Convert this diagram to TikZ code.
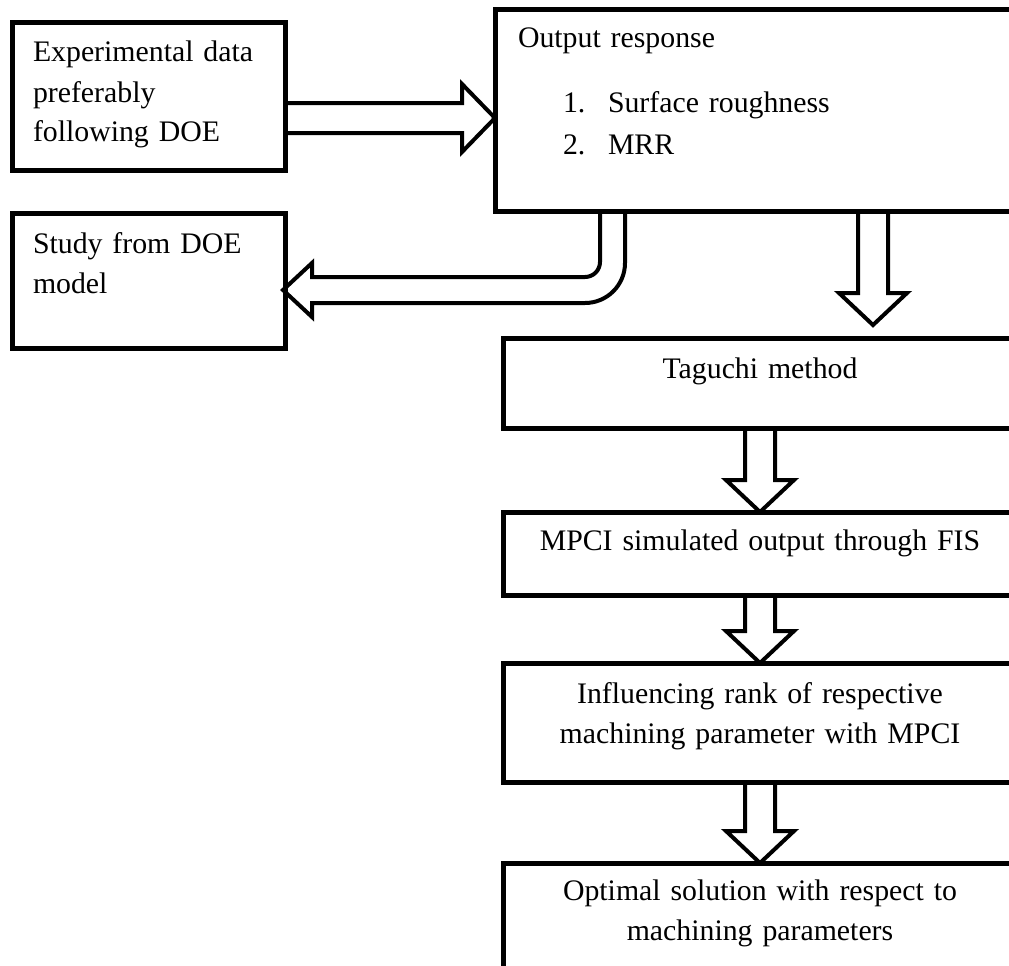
\documentclass[tikz,border=0pt]{standalone}
\usepackage{fontspec}
\setmainfont{Liberation Serif}
\usepackage{tikz}
\usetikzlibrary{positioning, calc}
\tikzset{
    block/.style={draw, line width=5pt, inner sep=0pt, outer sep=0pt, text width=514pt,
      align=center, font=\fontsize{29.8pt}{40pt}\selectfont},
    sideblock/.style={block, inner xsep=21pt, text width=231pt, align=left},
    fatarrow/.style={draw, line width=4pt, line join=miter},
    blockdown/.style={to path={
      ($(\tikztostart)+(-15,0)$) -- ($(\tikztotarget)+(-15,32)$) -- ($(\tikztotarget)+(-34,32)$)
      -- (\tikztotarget) -- ($(\tikztotarget)+(34,32)$) -- ($(\tikztotarget)+(15,32)$)
      -- ($(\tikztostart)+(15,0)$)}},
    blockright/.style={to path={
      ($(\tikztostart)+(0,15)$) -- ($(\tikztotarget)+(-33,15)$) -- ($(\tikztotarget)+(-33,34)$)
      -- (\tikztotarget) -- ($(\tikztotarget)+(-33,-34)$) -- ($(\tikztotarget)+(-33,-15)$)
      -- ($(\tikztostart)+(0,-15)$)}},
}

\begin{document}
\begin{tikzpicture}[x=1pt, y=1pt]
    \useasboundingbox (0,0) rectangle (1009,-966);

    % left column
    \node[sideblock, text height=39pt, text depth=108pt, anchor=north west] (exp) at (12,-23)
      {Experimental data\\ preferably\\ following DOE};
    \node[sideblock, text height=40pt, text depth=95pt, below=43pt of exp] (study)
      {Study from DOE\\ model};

    % right column
    \node[block, text width=489pt, inner xsep=23pt, align=left, text height=38pt, text depth=163pt,
      anchor=north west] (out) at (495,-10)
      {Output response\\[25pt]
       \hspace*{45pt}\makebox[45pt][l]{1.}Surface roughness\\[2pt]
       \hspace*{45pt}\makebox[45pt][l]{2.}MRR};
    \node[block, text height=40pt, text depth=50pt, anchor=north] (tag) at (760,-338) {Taguchi method};
    \node[block, text height=38pt, text depth=45pt, below=84pt of tag] (mpci)
      {MPCI simulated output through FIS};
    \node[block, text height=40pt, text depth=79pt, below=68pt of mpci] (infl)
      {Influencing rank of respective\\ machining parameter with MPCI};
    \node[block, text height=37pt, text depth=103pt, below=81pt of infl] (opt)
      {Optimal solution with respect to\\ machining parameters};

    \coordinate (exp out) at ($(exp.east)+(0,-21.5)$);
    \coordinate (out in) at ($(out.west)+(0,-7.5)$);
    \coordinate (out down) at ($(out.south west)+(378,0)$);
    \coordinate (tag in) at ($(tag.north)+(113,13)$);
    \coordinate (bend tip) at ($(study.east)+(-2,-9.5)$);

    % hollow arrows
    \draw[fatarrow] (exp out) to[blockright] (out in);
    \draw[fatarrow] (out down) to[blockdown] (tag in);
    \draw[fatarrow] (tag.south) to[blockdown] (mpci.north);
    \draw[fatarrow] (mpci.south) to[blockdown] (infl.north);
    \draw[fatarrow] (infl.south) to[blockdown] (opt.north);
    \draw[fatarrow] ($(out.south west)+(105,0)$) -- ++(0,-51) arc[start angle=0, end angle=-90, radius=15]
      -- ($(bend tip)+(29,13)$) -- ++(0,14) -- (bend tip) -- ++(29,-27) -- ++(0,14)
      -- ++(273,0) arc[start angle=-90, end angle=0, radius=40] -- ($(out.south west)+(130,0)$);
\end{tikzpicture}
\end{document}
